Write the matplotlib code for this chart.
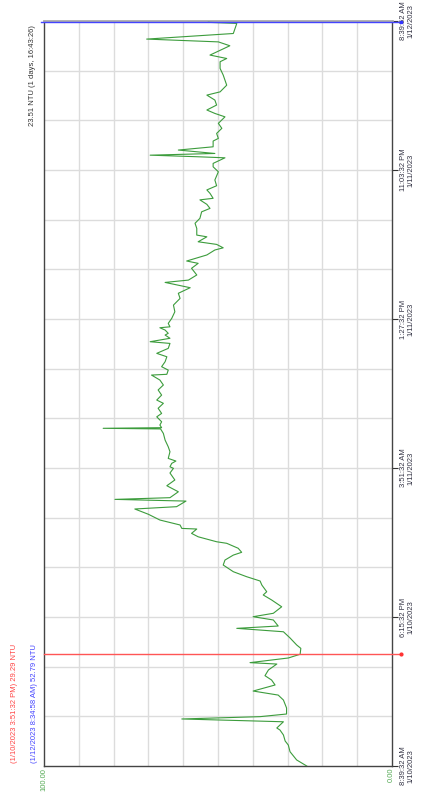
import matplotlib
matplotlib.use('Agg')
import matplotlib.pyplot as plt
import numpy as np

# 时间轴(小时, 从 1/10/2023 8:39:32 AM 起) 与浊度读数 (NTU)
hours = [0.00, 0.39, 0.92, 1.35, 1.61, 2.00, 2.32, 2.45, 2.85, 3.03, 3.18, 3.35, 3.74, 4.25, 4.57,
         4.83, 5.22, 5.54, 5.82, 6.19, 6.57, 6.66, 6.96, 7.20, 7.58, 7.80, 8.25, 8.65, 8.87, 9.02,
         9.41, 9.62, 9.84, 10.26, 10.70, 11.02, 11.23, 11.66, 11.92, 12.20, 12.52, 12.95, 13.27, 13.59,
         13.77, 14.03, 14.35, 14.45, 14.77, 14.99, 15.27, 15.31, 15.53, 15.85, 16.22, 16.56, 16.71,
         17.07, 17.18, 17.29, 17.67, 18.06, 18.43, 18.88, 19.18,
         19.28, 19.50, 19.65, 19.82, 20.25, 20.57, 21.00, 21.43, 21.72, 21.76, 21.80, 21.97, 22.18,
         22.50, 22.72, 23.05, 23.37, 23.58, 23.90, 24.23, 24.55, 24.87, 25.19, 25.24, 25.51, 25.73,
         26.05, 26.37, 26.59, 26.91, 27.23, 27.34, 27.56, 27.77, 27.88, 28.09, 28.24, 28.30, 28.52,
         28.84, 29.27, 29.70, 30.13, 30.46, 30.82, 31.16, 31.31,
         31.64, 32.07, 32.39, 32.54, 32.93, 33.25, 33.39, 33.61, 33.78, 34.10, 34.21, 34.64, 34.97,
         35.29, 35.71, 35.93, 36.19, 36.48, 36.58, 36.90, 37.12, 37.39, 37.76, 38.29, 38.61, 38.83,
         39.19, 39.26, 39.36, 39.47, 39.69, 39.90, 40.27, 40.44, 40.76, 41.09, 41.41, 41.83, 42.05,
         42.27, 42.59, 42.91, 43.23, 43.44, 43.87, 44.52, 44.95, 45.38, 45.59, 45.81, 46.41, 46.66,
         46.84, 47.20, 47.85, 47.92]
ntu = [24.5, 27.4, 29.3, 29.8, 30.7, 31.2, 32.2, 33.1, 31.2, 60.4, 37.9, 30.3, 30.3, 31.2, 32.7,
       39.9, 33.6, 34.6, 36.5, 35.5, 33.1, 40.8, 29.8, 26.4, 26.2, 27.4, 29.3, 31.2, 44.6, 32.7,
       34.1, 39.9, 34.1, 31.7, 34.6, 37.0, 36.0, 37.4, 37.9, 41.8, 45.6, 48.5, 48.0, 45.6,
       43.2, 44.2, 47.5, 50.4, 55.7, 57.6, 56.1, 60.4, 60.9, 66.7, 70.0, 73.9, 61.9,
       59.2, 79.6, 63.8, 61.4, 64.7, 62.4, 63.8, 62.8,
       63.8, 63.3, 62.1, 64.3, 63.8, 64.3, 65.2, 65.7, 66.5, 83.0, 66.2, 66.7, 66.2,
       67.6, 66.2, 67.2, 65.7, 67.6, 66.2, 67.2, 65.7, 66.7, 69.1, 64.7, 64.3, 66.2,
       65.2, 64.7, 67.6, 64.3, 63.8, 69.5, 63.8, 65.2, 64.3, 65.2, 66.7, 63.8, 64.3,
       63.3, 62.4, 62.8, 60.9, 61.4, 58.0, 65.2, 58.5,
       56.1, 57.6, 55.7, 59.0, 53.2, 50.9, 48.5, 50.4, 55.7, 53.2, 56.1, 56.1, 56.6,
       55.2, 54.7, 52.3, 53.2, 55.2, 51.4, 52.3, 53.2, 50.4, 50.9, 49.9, 51.4, 51.4,
       48.0, 56.1, 69.5, 50.9, 61.4, 51.4, 51.4, 49.9, 50.4, 48.9, 49.9, 48.0, 50.9,
       53.2, 50.4, 50.9, 53.2, 49.4, 47.5, 48.5, 49.4, 49.4, 47.5, 52.3, 46.6, 49.9,
       70.5, 45.6, 44.6, 52.8]

t_end = 48 + 20 / 3600.0
tick_hours = [0, 9.6, 19.2, 28.8, 38.4, t_end]
tick_labels = ['8:39:32 AM\n1/10/2023', '6:15:32 PM\n1/10/2023', '3:51:32 AM\n1/11/2023',
               '1:27:32 PM\n1/11/2023', '11:03:32 PM\n1/11/2023', '8:39:52 AM\n1/12/2023']

red_cursor_t, red_cursor_label = 7.2, '(1/10/2023 3:51:32 PM) 29.29 NTU'
blue_cursor_t, blue_cursor_label = 47.924, '(1/12/2023 8:34:58 AM) 52.79 NTU'
diff_label = '23.51 NTU (1 days, 16:43:26)'

W, H = 433, 795
fam = ['Liberation Sans Narrow', 'Liberation Sans', 'DejaVu Sans']
fs = 5.5
fig = plt.figure(figsize=(W / 100, H / 100), dpi=100)
ax = fig.add_axes([44 / W, 1 - 766 / H, 348 / W, 745 / H])

ax.set_xlim(100, 0)
ax.set_ylim(0, t_end)

# 网格
for v in range(10, 100, 10):
    ax.axvline(v, color='#dcdcdc', lw=1, zorder=0)
for g in np.linspace(0, t_end, 16)[1:-1]:
    ax.axhline(g, color='#dcdcdc', lw=1, zorder=0)

ax.plot(ntu, hours, color='#3c9c3c', lw=0.8, zorder=3)

# 光标线
ax.plot([100, -2.5], [red_cursor_t, red_cursor_t], color='#ff5555', lw=1, clip_on=False, zorder=4)
ax.plot([-2.5], [red_cursor_t], 'o', color='#ff3333', ms=2, clip_on=False, zorder=5)
ax.plot([101, -2.5], [blue_cursor_t, blue_cursor_t], color='#4444ff', lw=1, clip_on=False, zorder=4)
ax.plot([-2.5], [blue_cursor_t], 's', color='#3333ff', ms=2, clip_on=False, zorder=5)

ax.set_xticks([])
ax.yaxis.tick_right()
ax.set_yticks(tick_hours)
ax.set_yticklabels(tick_labels, rotation=90, va='center', ha='left',
                   multialignment='center', fontsize=fs, family=fam, color='#333344',
                   linespacing=1.0)
ax.tick_params(axis='y', length=4, width=0.8, pad=2, color='#333333')

for side in ['left', 'right', 'bottom']:
    ax.spines[side].set_color('#444444')
    ax.spines[side].set_linewidth(1)
ax.spines['top'].set_color('#aaaaaa')
ax.spines['top'].set_linewidth(2)

fig.text(33 / W, 1 - 25 / H, diff_label, rotation=90, ha='center', va='top',
         fontsize=fs, family=fam, color='#333333')
fig.text(15 / W, 1 - 763 / H, red_cursor_label, rotation=90, ha='center', va='bottom',
         fontsize=fs, family=fam, color='#ff4444')
fig.text(34 / W, 1 - 763 / H, blue_cursor_label, rotation=90, ha='center', va='bottom',
         fontsize=fs, family=fam, color='#4444ff')
fig.text(44 / W, 1 - 768 / H, '100.00', rotation=90, ha='center', va='top',
         fontsize=fs, family=fam, color='#55aa55')
fig.text(391 / W, 1 - 768 / H, '0.00', rotation=90, ha='center', va='top',
         fontsize=fs, family=fam, color='#55aa55')

fig.savefig('out.png', dpi=100)
